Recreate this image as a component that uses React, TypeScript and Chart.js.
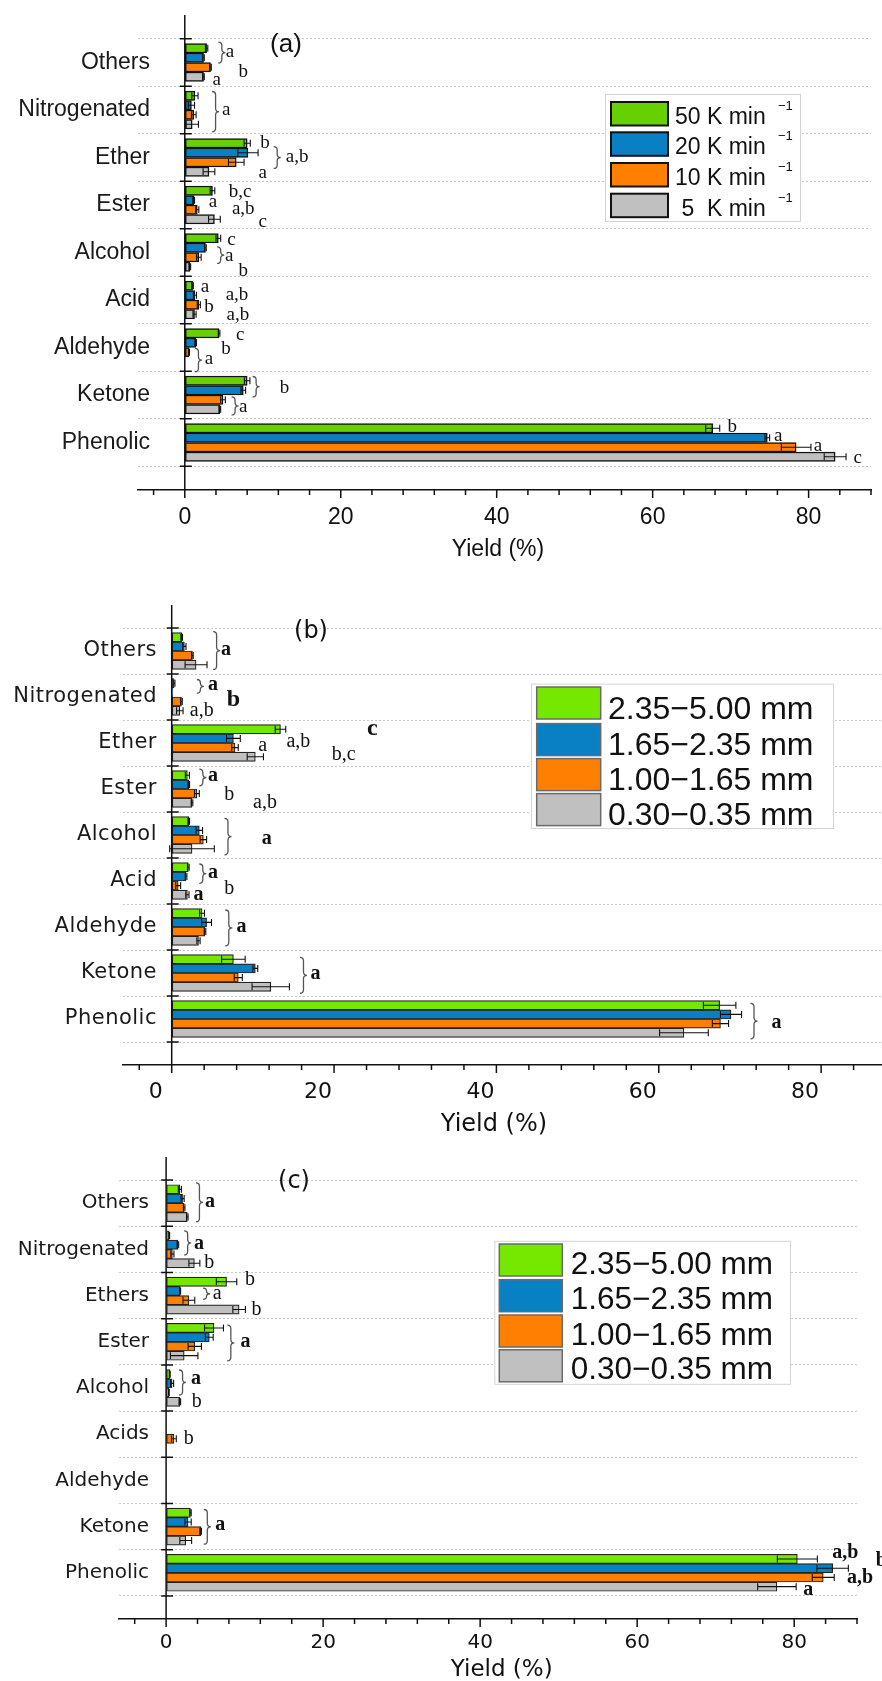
import { useEffect, useRef } from 'react';
import { Chart, registerables } from 'chart.js';

Chart.register(...registerables);

// ---------------- data ----------------
const categoriesAB = ['Others', 'Nitrogenated', 'Ether', 'Ester', 'Alcohol', 'Acid', 'Aldehyde', 'Ketone', 'Phenolic'];
const categoriesC = ['Others', 'Nitrogenated', 'Ethers', 'Ester', 'Alcohol', 'Acids', 'Aldehyde', 'Ketone', 'Phenolic'];
const rateLabels = ['50 K min', '20 K min', '10 K min', ' 5  K min'];
const sizeLabels = ['2.35−5.00 mm', '1.65−2.35 mm', '1.00−1.65 mm', '0.30−0.35 mm'];
const yieldTicks = [0, 20, 40, 60, 80];

// Panel (a): heating rate
const rate50 = [2.8, 1.3, 8.0, 3.55, 4.3, 1.0, 4.4, 8.0, 67.7];
const rate50Err = [0.15, 0.4, 0.4, 0.3, 0.3, 0.1, 0.1, 0.35, 0.9];
const rate20 = [2.4, 0.85, 8.1, 1.15, 2.65, 1.3, 1.4, 7.5, 74.7];
const rate20Err = [0.1, 0.4, 1.3, 0.1, 0.1, 0.2, 0.1, 0.3, 0.3];
const rate10 = [3.3, 1.15, 6.6, 1.6, 1.8, 1.8, 0.55, 4.9, 78.4];
const rate10Err = [0.1, 0.3, 1.0, 0.2, 0.3, 0.2, 0.05, 0.3, 1.9];
const rate5 = [2.4, 0.95, 3.1, 3.8, 0.65, 1.25, null, 4.5, 83.4];
const rate5Err = [0.1, 0.8, 0.75, 0.75, 0.1, 0.2, null, 0.1, 1.4];

// Panel (b): particle size
const b235 = [1.23, 0.3, 13.4, 1.93, 2.1, 2.05, 3.74, 7.6, 67.5];
const b235Err = [0.1, 0.1, 0.65, 0.25, 0.1, 0.1, 0.3, 1.45, 2.0];
const b165 = [1.56, 0.1, 7.6, 2.1, 3.4, 1.77, 4.3, 10.3, 68.9];
const b165Err = [0.2, null, 0.85, 0.1, 0.4, 0.1, 0.6, 0.3, 1.3];
const b100 = [2.55, 1.2, 7.8, 3.1, 3.9, 0.8, 4.1, 8.2, 67.6];
const b100Err = [0.1, 0.1, 0.4, 0.3, 0.4, 0.3, 0.1, 0.5, 1.0];
const b030 = [3.0, 1.0, 10.3, 2.5, 2.5, 1.93, 3.3, 12.2, 63.1];
const b030Err = [1.35, 0.4, 1.0, 0.1, 2.75, 0.2, 0.2, 2.3, 3.0];

// Panel (c): particle size
const c235 = [1.75, 0.4, 7.7, 6.1, 0.47, null, null, 3.1, 80.4];
const c235Err = [0.2, 0.05, 1.3, 1.2, 0.05, null, null, 0.1, 2.55];
const c165 = [2.1, 1.5, 1.8, 5.5, 0.76, null, null, 2.8, 84.9];
const c165Err = [0.2, 0.1, 0.05, 0.5, 0.2, null, null, 0.4, 2.0];
const c100 = [2.3, 0.8, 2.9, 3.65, 0.35, 1.0, null, 4.4, 83.7];
const c100Err = [0.1, 0.2, 0.75, 0.85, 0.05, 0.3, null, 0.1, 1.4];
const c030 = [2.7, 3.6, 9.3, 2.3, 1.75, null, null, 2.5, 77.8];
const c030Err = [0.1, 0.7, 0.8, 1.75, 0.1, null, null, 0.75, 2.45];

// significance letters: [text, yield value, category position, bold?, size?]
const lettersA: any[] = [
  ['a', 5.8, 0.77], ['b', 7.5, 1.19], ['a', 4.1, 1.37],
  ['a', 5.3, 2.0],
  ['b', 10.3, 2.7], ['a,b', 14.4, 3.0], ['a', 10.0, 3.32],
  ['b,c', 7.1, 3.72], ['a', 3.6, 3.93], ['a,b', 7.5, 4.09], ['c', 10.0, 4.35],
  ['c', 6.0, 4.74], ['a', 5.7, 5.07], ['b', 7.5, 5.4],
  ['a', 2.6, 5.72], ['a,b', 6.7, 5.89], ['b', 3.1, 6.14], ['a,b', 6.8, 6.32],
  ['c', 7.1, 6.74], ['b', 5.3, 7.04], ['a', 3.1, 7.25],
  ['b', 12.8, 7.85], ['a', 7.5, 8.25],
  ['b', 70.2, 8.68], ['a', 76.1, 8.86], ['a', 81.2, 9.07], ['c', 86.3, 9.33],
];
const bracesA = [[4.3, 0.57, 1.01], [3.5, 1.61, 2.46], [11.4, 2.77, 3.23], [4.15, 4.88, 5.23], [1.3, 7.02, 7.51], [8.7, 7.61, 8.04], [6.0, 8.04, 8.42]];

const lettersB: any[] = [
  ['a', 6.7, 0.98, true],
  ['a', 5.1, 1.74, true], ['b', 7.6, 2.07, true, 24], ['a,b', 3.7, 2.3],
  ['c', 24.7, 2.7, true, 24], ['a,b', 15.6, 2.97], ['a', 11.2, 3.06], ['b,c', 21.2, 3.26],
  ['a', 5.1, 3.72, true], ['b', 7.1, 4.12], ['a,b', 11.5, 4.3],
  ['a', 11.7, 5.09, true],
  ['a', 5.1, 5.82, true], ['b', 7.1, 6.16], ['a', 3.3, 6.3, true],
  ['a', 8.6, 6.99, true],
  ['a', 17.7, 8.02, true],
  ['a', 74.5, 9.08, true],
];
const bracesB = [[5.1, 0.58, 1.4], [3.1, 1.62, 1.92], [3.4, 3.57, 3.93], [6.5, 4.64, 5.43], [3.4, 5.63, 6.05], [6.6, 6.63, 7.41], [15.8, 7.66, 8.44], [71.3, 8.66, 9.43]];

const lettersC: any[] = [
  ['a', 5.6, 0.98, true],
  ['a', 4.2, 1.87, true], ['b', 5.5, 2.29],
  ['b', 10.7, 2.66], ['a', 6.5, 2.97], ['b', 11.5, 3.3],
  ['a', 10.1, 4.0, true],
  ['a', 3.8, 4.81, true], ['b', 3.9, 5.3],
  ['b', 2.9, 6.09],
  ['a', 6.9, 7.97, true],
  ['a,b', 86.5, 8.57, true], ['b', 91.1, 8.75, true], ['a,b', 88.4, 9.1, true], ['a', 81.8, 9.36, true],
];
const bracesC = [[3.8, 0.56, 1.4], [2.3, 1.6, 2.12], [4.7, 2.84, 3.08], [7.8, 3.64, 4.41], [1.65, 4.61, 5.15], [4.8, 7.63, 8.38]];

// ---------------- styles ----------------
const SANS = '"Liberation Sans", Arial, sans-serif';
const DJV = '"DejaVu Sans", sans-serif';
const SERIF = '"Liberation Serif", "Times New Roman", serif';
const BLUE = '#0a80c4';
const ORANGE = '#ff8000';
const GRAY = '#c0c0c0';

const panels: any[] = [
  {
    id: 'a', top: 0, height: 570,
    area: { left: 138, top: 15, right: 871, bottom: 490 }, xMax: 88,
    categories: categoriesAB, series: rateLabels,
    values: [rate50, rate20, rate10, rate5], errors: [rate50Err, rate20Err, rate10Err, rate5Err],
    colors: ['#66d000', BLUE, ORANGE, GRAY], barBorder: 1.5, barBorderColor: '#111',
    yFont: `23px ${SANS}`, yLabelRight: 150, ySpacing: '0px',
    xFont: { family: SANS, size: 23, lineHeight: 1.2 }, xPad: 14, xLabelOffset: 0,
    title: { text: 'Yield (%)', x: 498, y: 550, font: `23px ${SANS}` },
    tag: { text: '(a)', x: 286, y: 45, font: `26px ${SANS}` },
    letters: lettersA, braces: bracesA, letterSize: 19,
    legend: { box: [605, 94, 195, 127], swX: 611, swW: 57, swH: 23.5, rows: [102, 132.3, 163, 193.7], textX: 675, baseline: 22, font: `23px ${SANS}`, sup: { text: '−1', x: 778, dy: 8, font: `13px ${SANS}` }, swBorder: '#111', swLine: 2 },
  },
  {
    id: 'b', top: 570, height: 570,
    area: { left: 123, top: 35, right: 882, bottom: 495 }, xMax: 87.5,
    categories: categoriesAB, series: sizeLabels,
    values: [b235, b165, b100, b030], errors: [b235Err, b165Err, b100Err, b030Err],
    colors: ['#76e800', BLUE, ORANGE, GRAY], barBorder: 1.2, barBorderColor: '#222',
    yFont: `21px ${DJV}`, yLabelRight: 157, ySpacing: '0.5px',
    xFont: { family: DJV, size: 22, lineHeight: 1.2 }, xPad: 14, xLabelOffset: -16,
    title: { text: 'Yield (%)', x: 494, y: 554.6, font: `24px ${DJV}` },
    tag: { text: '(b)', x: 311, y: 61.7, font: `24px ${DJV}` },
    letters: lettersB, braces: bracesB, letterSize: 20,
    legend: { box: [531, 113.6, 302, 144.4], swX: 536.7, swW: 64, swH: 32, rows: [117, 153.6, 188.6, 223.6], textX: 608, baseline: 31.5, font: `32px ${SANS}`, swBorder: '#6a6a6a', swLine: 1.5 },
  },
  {
    id: 'c', top: 1140, height: 541,
    area: { left: 119, top: 17, right: 857, bottom: 479 }, xMax: 88,
    categories: categoriesC, series: sizeLabels,
    values: [c235, c165, c100, c030], errors: [c235Err, c165Err, c100Err, c030Err],
    colors: ['#76e800', BLUE, ORANGE, GRAY], barBorder: 1.2, barBorderColor: '#222',
    yFont: `20px ${DJV}`, yLabelRight: 149, ySpacing: '0px',
    xFont: { family: DJV, size: 20, lineHeight: 1.2 }, xPad: 11.7, xLabelOffset: 0,
    title: { text: 'Yield (%)', x: 501.7, y: 529.8, font: `23px ${DJV}` },
    tag: { text: '(c)', x: 294, y: 41.7, font: `24px ${DJV}` },
    letters: lettersC, braces: bracesC, letterSize: 20,
    legend: { box: [494.3, 100.8, 295.7, 143], swX: 499.3, swW: 63, swH: 32, rows: [104, 139.7, 175, 209.8], textX: 570.7, baseline: 29.6, font: `31.5px ${SANS}`, swBorder: '#6a6a6a', swLine: 1.5 },
  },
];

function drawBrace(ctx: CanvasRenderingContext2D, x: number, y1: number, y2: number, w: number) {
  const ym = (y1 + y2) / 2;
  const r = Math.min(w / 2, (y2 - y1) / 4);
  const xm = x + w / 2;
  ctx.beginPath();
  ctx.moveTo(x, y1);
  ctx.quadraticCurveTo(xm, y1, xm, y1 + r);
  ctx.lineTo(xm, ym - r);
  ctx.quadraticCurveTo(xm, ym, x + w, ym);
  ctx.quadraticCurveTo(xm, ym, xm, ym + r);
  ctx.lineTo(xm, y2 - r);
  ctx.quadraticCurveTo(xm, y2, x, y2);
  ctx.stroke();
}

function makeDecor(cfg: any) {
  return {
    id: 'decor_' + cfg.id,
    afterDatasetsDraw(chart: any) {
      const ctx = chart.ctx;
      const xs = chart.scales.x;
      ctx.save();
      ctx.strokeStyle = '#111';
      ctx.lineWidth = 1.1;
      cfg.values.forEach((vals: any[], di: number) => {
        const meta = chart.getDatasetMeta(di);
        vals.forEach((v, i) => {
          const e = cfg.errors[di][i];
          if (v == null || e == null) return;
          const el = meta.data[i];
          if (!el) return;
          const p = el.getProps(['y', 'height'], true);
          const x1 = xs.getPixelForValue(v - e);
          const x2 = xs.getPixelForValue(v + e);
          const hh = p.height * 0.38;
          ctx.beginPath();
          ctx.moveTo(x1, p.y); ctx.lineTo(x2, p.y);
          ctx.moveTo(x1, p.y - hh); ctx.lineTo(x1, p.y + hh);
          ctx.moveTo(x2, p.y - hh); ctx.lineTo(x2, p.y + hh);
          ctx.stroke();
        });
      });
      ctx.restore();
    },
    afterDraw(chart: any) {
      const ctx = chart.ctx;
      const area = chart.chartArea;
      const xs = chart.scales.x;
      const ys = chart.scales.y;
      ctx.save();
      // y axis at x = 0 with crossing ticks
      const x0 = xs.getPixelForValue(0);
      ctx.strokeStyle = '#111';
      ctx.lineWidth = 1.5;
      ctx.beginPath();
      ctx.moveTo(x0, area.top);
      ctx.lineTo(x0, area.bottom);
      for (let k = 0; k <= cfg.categories.length; k++) {
        const y = ys.getPixelForValue(k + 0.5);
        ctx.moveTo(x0 - 5, y);
        ctx.lineTo(x0 + 7, y);
      }
      // x ticks: major every 20, minor every 4
      for (let v = -4; v <= xs.max + 1e-6; v += 4) {
        const px = xs.getPixelForValue(v);
        const len = v % 20 === 0 ? 8 : 5;
        ctx.moveTo(px, area.bottom);
        ctx.lineTo(px, area.bottom + len);
      }
      ctx.stroke();

      // category labels
      ctx.fillStyle = '#1a1a1a';
      ctx.textAlign = 'right';
      ctx.textBaseline = 'middle';
      ctx.font = cfg.yFont;
      (ctx as any).letterSpacing = cfg.ySpacing;
      cfg.categories.forEach((name: string, i: number) => {
        ctx.fillText(name, cfg.yLabelRight, ys.getPixelForValue(i + 1));
      });
      (ctx as any).letterSpacing = '0px';

      // braces
      ctx.strokeStyle = '#555';
      ctx.lineWidth = 1.3;
      for (const [bx, b1, b2] of cfg.braces) {
        drawBrace(ctx, xs.getPixelForValue(bx), ys.getPixelForValue(b1), ys.getPixelForValue(b2), 7);
      }

      // letters
      ctx.fillStyle = '#111';
      ctx.textAlign = 'center';
      ctx.textBaseline = 'middle';
      for (const [t, lx, ly, bold, size] of cfg.letters) {
        ctx.font = `${bold ? 'bold ' : ''}${size || cfg.letterSize}px ${SERIF}`;
        ctx.fillText(t, xs.getPixelForValue(lx), ys.getPixelForValue(ly));
      }

      // legend
      const lg = cfg.legend;
      ctx.fillStyle = '#fff';
      ctx.fillRect(lg.box[0], lg.box[1], lg.box[2], lg.box[3]);
      ctx.strokeStyle = '#d4d4d4';
      ctx.lineWidth = 1;
      ctx.strokeRect(lg.box[0] + 0.5, lg.box[1] + 0.5, lg.box[2], lg.box[3]);
      cfg.series.forEach((name: string, i: number) => {
        const top = lg.rows[i];
        ctx.fillStyle = cfg.colors[i];
        ctx.fillRect(lg.swX, top, lg.swW, lg.swH);
        ctx.strokeStyle = lg.swBorder;
        ctx.lineWidth = lg.swLine;
        ctx.strokeRect(lg.swX, top, lg.swW, lg.swH);
        ctx.fillStyle = '#111';
        ctx.textAlign = 'left';
        ctx.textBaseline = 'alphabetic';
        ctx.font = lg.font;
        ctx.fillText(name, lg.textX, top + lg.baseline);
        if (lg.sup) {
          ctx.font = lg.sup.font;
          ctx.fillText(lg.sup.text, lg.sup.x, top + lg.sup.dy);
        }
      });

      // panel tag and axis title
      ctx.fillStyle = '#111';
      ctx.textAlign = 'center';
      ctx.textBaseline = 'middle';
      ctx.font = cfg.tag.font;
      ctx.fillText(cfg.tag.text, cfg.tag.x, cfg.tag.y);
      ctx.font = cfg.title.font;
      ctx.fillText(cfg.title.text, cfg.title.x, cfg.title.y);
      ctx.restore();
    },
  };
}

function Panel({ cfg }: { cfg: any }) {
  const ref = useRef<HTMLCanvasElement>(null);
  useEffect(() => {
    const band = (cfg.area.bottom - cfg.area.top) / (cfg.categories.length + 1);
    const barThickness = (band * 0.8) / cfg.values.length;
    const yTicks: number[] = [];
    for (let k = 0; k <= cfg.categories.length; k++) yTicks.push(k + 0.5);
    const chart = new Chart(ref.current as HTMLCanvasElement, {
      type: 'bar',
      data: {
        datasets: cfg.values.map((vals: any[], di: number) => ({
          label: cfg.series[di],
          data: vals.map((v, i) => ({ x: v, y: i + 1 })),
          backgroundColor: cfg.colors[di],
          borderColor: cfg.barBorderColor,
          borderWidth: cfg.barBorder,
          borderSkipped: false,
          barThickness,
        })),
      },
      options: {
        indexAxis: 'y',
        responsive: false,
        animation: false,
        devicePixelRatio: 1,
        events: [],
        layout: { padding: { left: 0, top: cfg.area.top, right: 882 - cfg.area.right, bottom: 0 } },
        plugins: { legend: { display: false }, tooltip: { enabled: false } },
        scales: {
          x: {
            type: 'linear',
            position: 'bottom',
            min: -6,
            max: cfg.xMax,
            offset: false,
            afterBuildTicks: (s: any) => { s.ticks = yieldTicks.map((v) => ({ value: v })); },
            afterFit: (s: any) => { s.height = cfg.height - cfg.area.bottom; },
            grid: { display: true, drawOnChartArea: false, drawTicks: false, offset: false },
            border: { display: true, color: '#111', width: 1.5 },
            ticks: {
              autoSkip: false,
              maxRotation: 0,
              padding: cfg.xPad,
              labelOffset: cfg.xLabelOffset,
              color: '#111',
              font: cfg.xFont,
              callback: (v: any) => String(v),
            },
          },
          y: {
            type: 'linear',
            position: 'left',
            min: 0,
            max: cfg.categories.length + 1,
            reverse: true,
            offset: false,
            afterBuildTicks: (s: any) => { s.ticks = yTicks.map((v) => ({ value: v })); },
            afterFit: (s: any) => { s.width = cfg.area.left; },
            grid: { drawTicks: false, lineWidth: 1, color: '#c6c6c6', offset: false },
            border: { display: false, dash: [2, 2] },
            ticks: { display: false, autoSkip: false },
          },
        },
      } as any,
      plugins: [makeDecor(cfg)],
    });
    return () => chart.destroy();
  }, [cfg]);
  return (
    <canvas
      ref={ref}
      width={882}
      height={cfg.height}
      style={{ position: 'absolute', left: 0, top: cfg.top, display: 'block' }}
    />
  );
}

export default function App() {
  return (
    <div style={{ position: 'absolute', left: 0, top: 0, width: 882, height: 1681, background: '#fff', overflow: 'hidden' }}>
      {panels.map((p) => (
        <Panel key={p.id} cfg={p} />
      ))}
    </div>
  );
}
